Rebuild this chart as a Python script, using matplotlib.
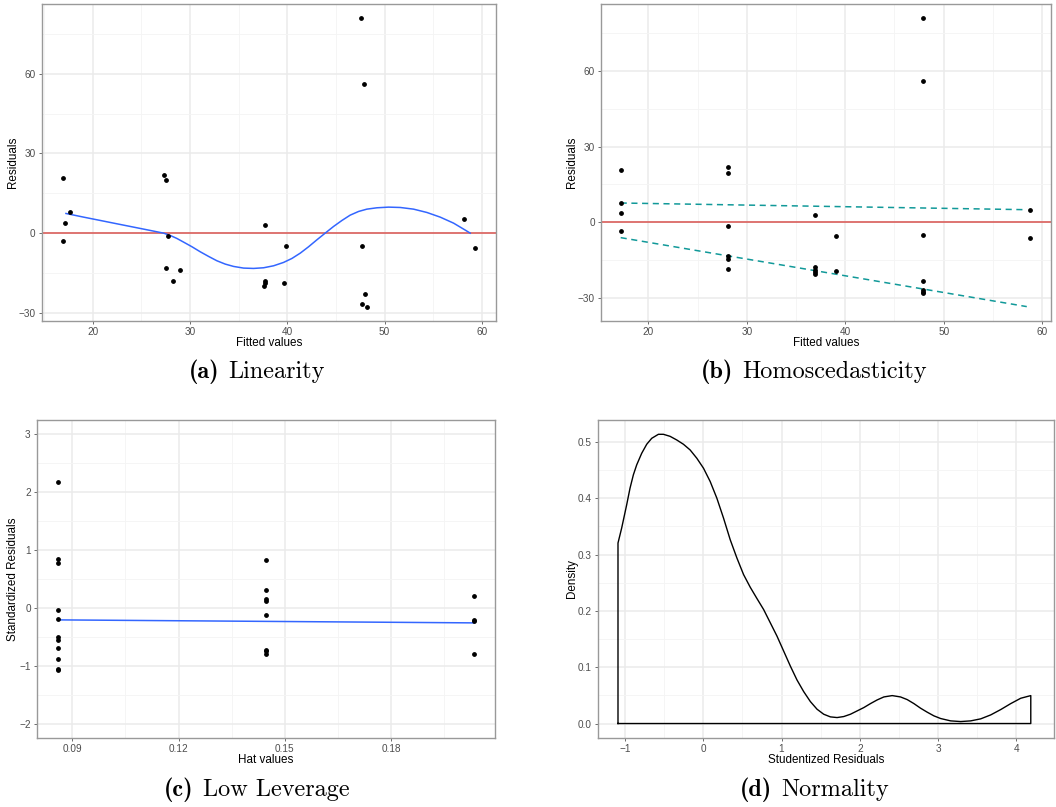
import numpy as np
import matplotlib.pyplot as plt
from matplotlib.ticker import MultipleLocator

plt.rcParams['font.family'] = ['Liberation Sans', 'DejaVu Sans']

# Residuals vs fitted (jittered) for the linearity panel
lin_fitted = [47.57, 47.84, 16.92, 17.67, 17.16, 16.99, 27.36, 27.57, 27.74, 27.57, 28.22, 28.94,
              37.74, 37.70, 37.74, 37.57, 39.83, 39.69, 47.64, 48.01, 47.70, 48.15, 58.18, 59.28]
lin_resid = [81.2, 56.2, 20.95, 7.8, 3.9, -3.1, 22.0, 19.95, -1.1, -13.0, -18.1, -14.05,
             3.1, -17.9, -18.9, -19.8, -5.0, -18.9, -4.8, -22.8, -26.7, -27.7, 5.3, -5.6]
# loess smoother through the residuals
smooth_x = [17.26, 19.08, 20.79, 22.50, 24.21, 25.58, 26.61, 27.29, 27.98, 28.66, 29.35, 30.21,
            31.06, 31.92, 32.77, 33.63, 34.49, 35.51, 36.54, 37.57, 38.60, 39.62, 40.48, 41.34,
            42.19, 43.05, 43.90, 44.76, 45.62, 46.47, 47.33, 48.18, 49.21, 50.41, 51.61, 52.98,
            54.35, 55.72, 57.09, 58.12, 58.80]
smooth_y = [7.40, 6.02, 4.77, 3.51, 2.26, 1.26, 0.50, 0.0, -0.88, -2.01, -3.39, -5.14,
            -7.03, -8.78, -10.41, -11.67, -12.55, -13.17, -13.30, -13.05, -12.30, -11.04, -9.54, -7.53,
            -5.14, -2.51, 0.0, 2.51, 4.77, 6.78, 8.16, 9.03, 9.54, 9.79, 9.66, 9.03,
            7.78, 6.02, 3.76, 1.51, 0.0]

# Residuals vs fitted for the homoscedasticity panel
hom_fitted = [17.19] * 4 + [28.13] * 6 + [36.97] * 5 + [39.07] * 2 + [47.87] * 7 + [58.78] * 2
hom_resid = [20.6, 7.65, 3.56, -3.3,
             21.8, 19.7, -1.3, -13.3, -14.4, -18.3,
             2.9, -17.9, -18.7, -19.5, -20.3,
             -5.3, -19.3,
             81.0, 56.1, -5.1, -23.1, -26.9, -27.6, -28.2,
             5.0, -6.1]
# quantile regression lines (upper / lower)
qr_x = [17.19, 58.44]
qr_upper = [7.65, 5.0]
qr_lower = [-6.07, -33.4]

# Standardized residuals vs hat values
hat = [0.0859] * 11 + [0.1446] * 8 + [0.2034] * 4
std_resid = [2.17, 0.85, 0.77, -0.04, -0.19, -0.51, -0.55, -0.70, -0.88, -1.05, -1.08,
             0.83, 0.31, 0.15, 0.12, -0.13, -0.72, -0.75, -0.79,
             0.21, -0.21, -0.23, -0.79]
lev_x = [0.0859, 0.2034]
lev_y = [-0.207, -0.259]

# Density of studentized residuals
dens_x = [-1.0896, -1.0427, -0.9787, -0.936, -0.8933, -0.8507, -0.7867, -0.7227, -0.6587, -0.5734,
          -0.5094, -0.4241, -0.3387, -0.2534, -0.1681, -0.0828, 0.0026, 0.0879, 0.1732, 0.2585,
          0.3439, 0.4292, 0.5145, 0.5998, 0.6852, 0.7705, 0.8558, 0.9411, 1.0265, 1.1118,
          1.1971, 1.2824, 1.3677, 1.4531, 1.5384, 1.6237, 1.7090, 1.7944, 1.8797, 1.9650,
          2.0503, 2.1357, 2.2210, 2.3063, 2.4130, 2.5196, 2.6049, 2.6903, 2.7756, 2.8609,
          2.9462, 3.0316, 3.1596, 3.2875, 3.4155, 3.5435, 3.6715, 3.7995, 3.9275, 4.0555, 4.1834]
dens_y = [0.3205, 0.3471, 0.3884, 0.4179, 0.4416, 0.4593, 0.4799, 0.4959, 0.5065, 0.5136,
          0.5136, 0.5100, 0.5035, 0.4959, 0.4858, 0.4711, 0.4534, 0.4298, 0.4002, 0.3648,
          0.3264, 0.2940, 0.2645, 0.2420, 0.2220, 0.2025, 0.1789, 0.1553, 0.1287, 0.1021,
          0.0773, 0.0567, 0.0390, 0.0254, 0.0165, 0.0118, 0.0106, 0.0124, 0.0165, 0.0224,
          0.0283, 0.0354, 0.0419, 0.0472, 0.0496, 0.0472, 0.0425, 0.0354, 0.0272, 0.0201,
          0.0136, 0.0089, 0.0047, 0.0035, 0.0047, 0.0083, 0.0153, 0.0248, 0.0354, 0.0449, 0.0496]

W, H = 1056, 807
fig = plt.figure(figsize=(W / 100, H / 100), dpi=100)


def panel(left, top, right, bottom):
    # axes from pixel box
    ax = fig.add_axes([left / W, 1 - bottom / H, (right - left) / W, (bottom - top) / H])
    ax.set_facecolor('white')
    ax.grid(True, which='major', color='#EBEBEB', lw=1.1)
    ax.grid(True, which='minor', color='#F4F4F4', lw=0.6)
    ax.set_axisbelow(True)
    for s in ax.spines.values():
        s.set_color('#999999')
        s.set_linewidth(1.0)
    ax.tick_params(which='major', length=2.5, width=0.6, color='#555555',
                   labelsize=7.2, labelcolor='#4D4D4D', pad=2)
    ax.tick_params(which='minor', length=0)
    return ax


def label(ax, xl, yl):
    ax.set_xlabel(xl, fontsize=8.4, labelpad=0)
    ax.set_ylabel(yl, fontsize=8.4, labelpad=0)


renderer = fig.canvas.get_renderer()


def caption(x, y, tag, name):
    # bold tag followed by roman name, centred as one line
    gap = 9
    t1 = fig.text(0, 1 - y / H, '(%s)' % tag, family='cmb10', fontsize=17.5, va='center')
    t2 = fig.text(0, 1 - y / H, name, family='cmr10', fontsize=17.5, va='center')
    w1 = t1.get_window_extent(renderer).width
    w2 = t2.get_window_extent(renderer).width
    start = x - (w1 + gap + w2) / 2
    t1.set_x(start / W)
    t2.set_x((start + w1 + gap) / W)


# (a) Linearity
ax = panel(42, 4, 496, 321)
ax.axhline(0, color='#d9534f', lw=1.1)
ax.plot(smooth_x, smooth_y, color='#3366FF', lw=1.1)
ax.scatter(lin_fitted, lin_resid, s=6, color='black', zorder=3)
ax.set_xlim(14.8, 61.45)
ax.set_ylim(-33.1, 86.3)
ax.xaxis.set_major_locator(MultipleLocator(10))
ax.xaxis.set_minor_locator(MultipleLocator(5))
ax.set_yticks([-30, 0, 30, 60])
ax.yaxis.set_minor_locator(MultipleLocator(15))
label(ax, 'Fitted values', 'Residuals')
caption(257, 372, 'a', 'Linearity')

# (b) Homoscedasticity
ax = panel(601, 4, 1051, 321)
ax.axhline(0, color='#d9534f', lw=1.1)
ax.plot(qr_x, qr_upper, color='#119999', lw=1.1, dashes=(4, 3))
ax.plot(qr_x, qr_lower, color='#119999', lw=1.1, dashes=(4, 3))
ax.scatter(hom_fitted, hom_resid, s=6, color='black', zorder=3)
ax.set_xlim(15.19, 60.9)
ax.set_ylim(-39.1, 86.5)
ax.xaxis.set_major_locator(MultipleLocator(10))
ax.xaxis.set_minor_locator(MultipleLocator(5))
ax.set_yticks([-30, 0, 30, 60])
ax.yaxis.set_minor_locator(MultipleLocator(15))
label(ax, 'Fitted values', 'Residuals')
caption(814, 372, 'b', 'Homoscedasticity')

# (c) Low Leverage
ax = panel(37, 420, 495, 738)
ax.plot(lev_x, lev_y, color='#3366FF', lw=1.1)
ax.scatter(hat, std_resid, s=6, color='black', zorder=3)
ax.set_xlim(0.0800, 0.2094)
ax.set_ylim(-2.25, 3.25)
ax.set_xticks([0.09, 0.12, 0.15, 0.18])
ax.set_xticklabels(['0.09', '0.12', '0.15', '0.18'])
ax.xaxis.set_minor_locator(MultipleLocator(0.015))
ax.yaxis.set_major_locator(MultipleLocator(1))
ax.yaxis.set_minor_locator(MultipleLocator(0.5))
label(ax, 'Hat values', 'Standardized Residuals')
caption(257, 790, 'c', 'Low Leverage')

# (d) Normality
ax = panel(598, 420, 1054, 738)
poly_x = [dens_x[0]] + dens_x + [dens_x[-1], dens_x[0]]
poly_y = [0] + dens_y + [0, 0]
ax.plot(poly_x, poly_y, color='black', lw=1.0)
ax.set_xlim(-1.345, 4.48)
ax.set_ylim(-0.0257, 0.539)
ax.xaxis.set_major_locator(MultipleLocator(1))
ax.xaxis.set_minor_locator(MultipleLocator(0.5))
ax.set_yticks([0.0, 0.1, 0.2, 0.3, 0.4, 0.5])
ax.set_yticklabels(['0.0', '0.1', '0.2', '0.3', '0.4', '0.5'])
ax.yaxis.set_minor_locator(MultipleLocator(0.05))
label(ax, 'Studentized Residuals', 'Density')
caption(814, 790, 'd', 'Normality')

plt.savefig('out.png', dpi=100)
